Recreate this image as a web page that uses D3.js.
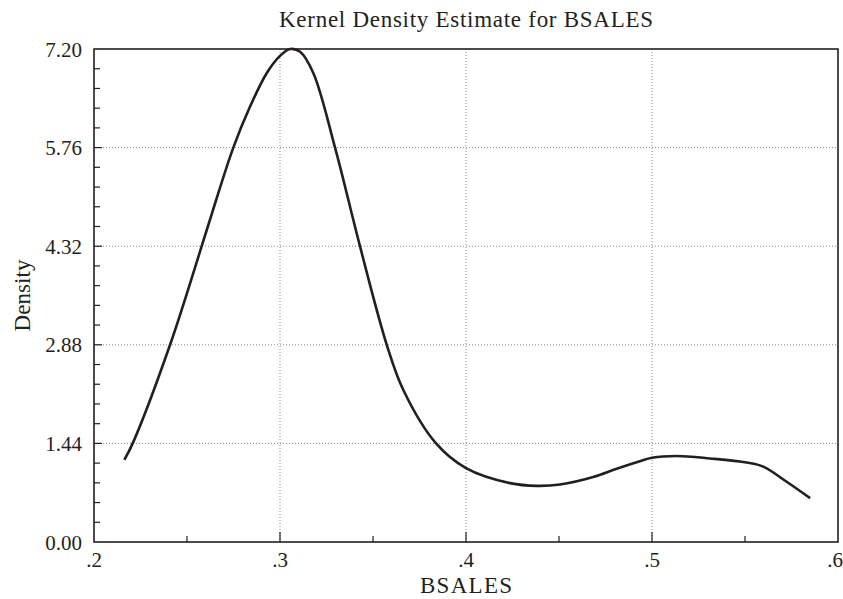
<!DOCTYPE html>
<html lang="en">
<head>
<meta charset="utf-8">
<title>Kernel Density Estimate for BSALES</title>
<script src="https://cdn.jsdelivr.net/npm/d3@7"></script>
<style>
  body { margin: 0; background: #fff; }
  text { font-family: "Liberation Serif", "DejaVu Serif", serif; fill: #231f20; }
  .grid line { stroke: #8a8a8a; stroke-width: 1; stroke-dasharray: 1,2; }
</style>
</head>
<body>
<script>
// data
var bsales  = [0.2163, 0.2208, 0.2409, 0.2579, 0.2633, 0.2749, 0.2839, 0.2929, 0.3000, 0.3054,
               0.3108, 0.3179, 0.3296, 0.3430, 0.3574, 0.3663, 0.3839, 0.4000, 0.4237,
               0.4382, 0.4505, 0.4684, 0.4810, 0.4935, 0.5000, 0.5133, 0.5312, 0.5509, 0.5598,
               0.5724, 0.5850];
var density = [1.20, 1.44, 2.88, 4.32, 4.79, 5.76, 6.36, 6.85, 7.10, 7.20,
               7.16, 6.85, 5.76, 4.32, 2.88, 2.22, 1.44, 1.08, 0.86,
               0.82, 0.84, 0.95, 1.07, 1.18, 1.23, 1.256, 1.22, 1.16, 1.10,
               0.88, 0.64];
var xTicks = [0.2, 0.3, 0.4, 0.5, 0.6];
var xTickLabels = [".2", ".3", ".4", ".5", ".6"];
var yTicks = [0, 1.44, 2.88, 4.32, 5.76, 7.20];

var width = 843, height = 599;
var margin = {top: 49, right: 5, bottom: 57, left: 94};
var w = width - margin.left - margin.right;
var h = height - margin.top - margin.bottom;

var svg = d3.select("body").append("svg")
    .attr("width", width)
    .attr("height", height);

var g = svg.append("g")
    .attr("transform", "translate(" + margin.left + "," + margin.top + ")");

var x = d3.scaleLinear().domain([0.2, 0.6]).range([0, w]);
var y = d3.scaleLinear().domain([0, 7.2]).range([h, 0]);

// dotted grid at inner major ticks
var grid = g.append("g").attr("class", "grid");
grid.selectAll(".vx").data(xTicks.slice(1, -1)).enter().append("line")
    .attr("x1", d => x(d)).attr("x2", d => x(d))
    .attr("y1", 0).attr("y2", h);
grid.selectAll(".hy").data(yTicks.slice(1, -1)).enter().append("line")
    .attr("x1", 0).attr("x2", w)
    .attr("y1", d => y(d)).attr("y2", d => y(d));

// frame
g.append("rect")
    .attr("width", w).attr("height", h)
    .attr("fill", "none")
    .attr("stroke", "#231f20")
    .attr("stroke-width", 1.6);

// ticks (pointing inward)
var xMinor = d3.range(0.25, 0.6, 0.1);
g.selectAll(".xt").data(xTicks.slice(1, -1)).enter().append("line")
    .attr("x1", d => x(d)).attr("x2", d => x(d))
    .attr("y1", h).attr("y2", h - 10)
    .attr("stroke", "#231f20").attr("stroke-width", 1.2);
g.selectAll(".xm").data(xMinor).enter().append("line")
    .attr("x1", d => x(d)).attr("x2", d => x(d))
    .attr("y1", h).attr("y2", h - 6)
    .attr("stroke", "#231f20").attr("stroke-width", 1.2);

var yMinor = [];
for (var i = 0; i < yTicks.length - 1; i++) {
  for (var k = 1; k < 5; k++) yMinor.push(yTicks[i] + k * 0.288);
}
g.selectAll(".yt").data(yTicks.slice(1, -1)).enter().append("line")
    .attr("x1", 0).attr("x2", 8)
    .attr("y1", d => y(d)).attr("y2", d => y(d))
    .attr("stroke", "#231f20").attr("stroke-width", 1.2);
g.selectAll(".ym").data(yMinor).enter().append("line")
    .attr("x1", 0).attr("x2", 6)
    .attr("y1", d => y(d)).attr("y2", d => y(d))
    .attr("stroke", "#231f20").attr("stroke-width", 1.2);

// tick labels (the last one is pulled in so it stays on the page)
g.selectAll(".xl").data(xTicks).enter().append("text")
    .attr("x", d => Math.min(x(d), width - margin.left - 8))
    .attr("y", h + 25)
    .attr("text-anchor", "middle")
    .attr("font-size", 21)
    .text((d, i) => xTickLabels[i]);

g.selectAll(".yl").data(yTicks).enter().append("text")
    .attr("x", -12)
    .attr("y", d => y(d) + 7.5)
    .attr("text-anchor", "end")
    .attr("font-size", 21)
    .text(d => d.toFixed(2));

// the density curve
var line = d3.line()
    .x(d => x(d[0]))
    .y(d => y(d[1]))
    .curve(d3.curveCatmullRom.alpha(0.5));

g.append("path")
    .datum(bsales.map((v, i) => [v, density[i]]))
    .attr("d", line)
    .attr("fill", "none")
    .attr("stroke", "#231f20")
    .attr("stroke-width", 2.6);

// titles
svg.append("text")
    .attr("x", margin.left + w / 2)
    .attr("y", 27)
    .attr("text-anchor", "middle")
    .attr("font-size", 23)
    .attr("textLength", 374)
    .attr("lengthAdjust", "spacing")
    .text("Kernel Density Estimate for BSALES");

svg.append("text")
    .attr("x", margin.left + w / 2)
    .attr("y", 593)
    .attr("text-anchor", "middle")
    .attr("font-size", 23)
    .attr("textLength", 92)
    .attr("lengthAdjust", "spacing")
    .text("BSALES");

svg.append("text")
    .attr("transform", "translate(30," + (margin.top + h / 2) + ")rotate(-90)")
    .attr("text-anchor", "middle")
    .attr("font-size", 23)
    .attr("textLength", 72)
    .attr("lengthAdjust", "spacing")
    .text("Density");
</script>
</body>
</html>
